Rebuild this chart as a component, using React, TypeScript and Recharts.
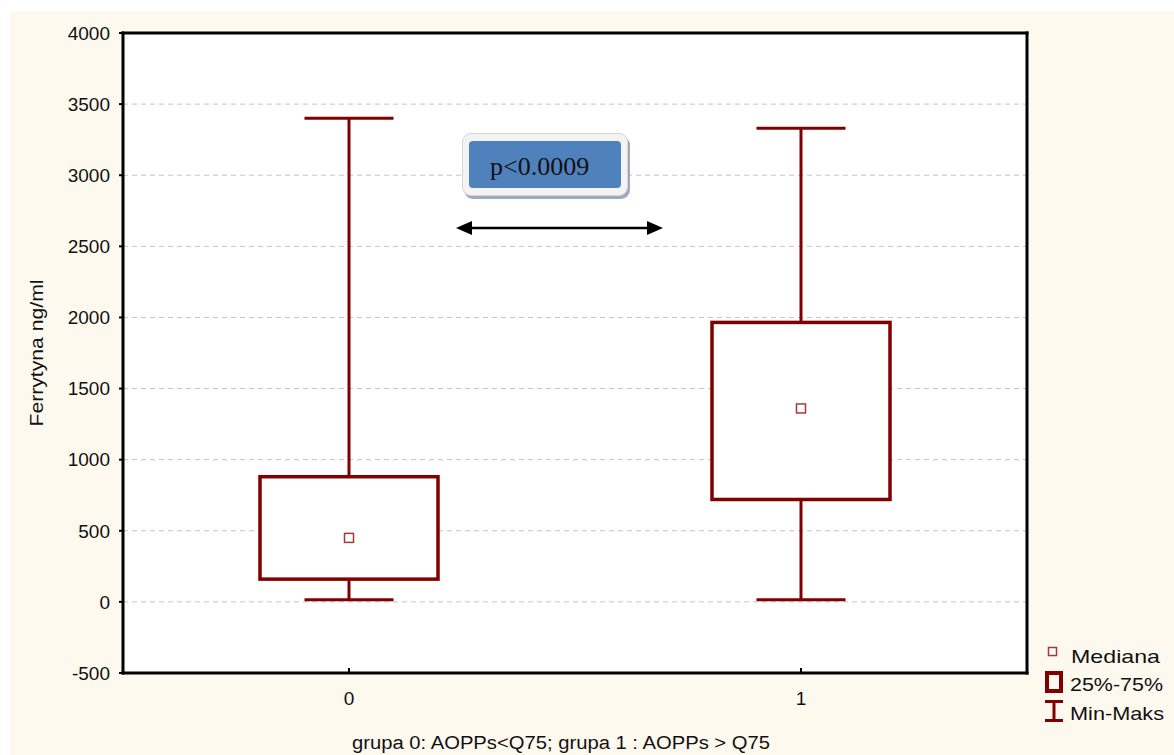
import React from 'react';
import {
  ComposedChart,
  Bar,
  Scatter,
  XAxis,
  YAxis,
  CartesianGrid,
} from 'recharts';

const groups = ['0', '1'];
const minVals = [15, 15];
const q1Vals = [160, 720];
const medianVals = [450, 1360];
const q3Vals = [880, 1965];
const maxVals = [3400, 3330];
const yTicks = [-500, 0, 500, 1000, 1500, 2000, 2500, 3000, 3500, 4000];

const xTitle = 'grupa 0: AOPPs<Q75; grupa 1 : AOPPs > Q75';
const yTitle = 'Ferrytyna ng/ml';
const pText = 'p<0.0009';
const legendItems = ['Mediana', '25%-75%', 'Min-Maks'];

const data = groups.map((g, i) => ({
  group: g,
  range: [minVals[i], maxVals[i]],
  min: minVals[i],
  q1: q1Vals[i],
  median: medianVals[i],
  q3: q3Vals[i],
  max: maxVals[i],
}));

const MAROON = '#800000';
const FONT = '"Liberation Sans", Arial, sans-serif';

const BoxShape = (props: any) => {
  const { x, y, width, height, payload } = props;
  if (x == null || y == null) return null;
  const top = Math.min(y, y + height);
  const bot = Math.max(y, y + height);
  const lo = payload.min;
  const hi = payload.max;
  const px = (v: number) => bot - ((v - lo) / (hi - lo)) * (bot - top);
  const cx = x + width / 2;
  const capHalf = width / 4;
  return (
    <g>
      <line x1={cx} x2={cx} y1={px(hi)} y2={px(payload.q3)} stroke={MAROON} strokeWidth={3} />
      <line x1={cx} x2={cx} y1={px(payload.q1)} y2={px(lo)} stroke={MAROON} strokeWidth={3} />
      <line x1={cx - capHalf} x2={cx + capHalf} y1={px(hi)} y2={px(hi)} stroke={MAROON} strokeWidth={3} />
      <line x1={cx - capHalf} x2={cx + capHalf} y1={px(lo)} y2={px(lo)} stroke={MAROON} strokeWidth={3} />
      <rect
        x={x}
        y={px(payload.q3)}
        width={width}
        height={px(payload.q1) - px(payload.q3)}
        fill="#fff"
        stroke={MAROON}
        strokeWidth={3.5}
      />
    </g>
  );
};

const MedianShape = (props: any) => {
  const { cx, cy } = props;
  if (cx == null || cy == null) return null;
  return <rect x={cx - 4.5} y={cy - 4.5} width={9} height={9} fill="#fff" stroke="#a23b3b" strokeWidth={1.5} />;
};

const BottomTick = (props: any) => {
  const { x, y, payload } = props;
  return (
    <g>
      <line x1={x} x2={x} y1={y - 5} y2={y} stroke="#000" strokeWidth={2} />
      <text x={x} y={y + 32} textAnchor="middle" fontSize={19} fontFamily={FONT} fill="#111">
        {payload.value}
      </text>
    </g>
  );
};

const RightTick = (props: any) => {
  const { x, y } = props;
  return <line x1={x - 5} x2={x} y1={y} y2={y} stroke="#000" strokeWidth={2} />;
};

const XTitle = (props: any) => {
  const vb = props.viewBox || { x: 113, y: 662, width: 904, height: 82 };
  return (
    <text
      x={vb.x + vb.width / 2 - 14}
      y={vb.y + 76}
      textAnchor="middle"
      fontSize={18}
      fontFamily={FONT}
      fill="#111"
      textLength={418}
      lengthAdjust="spacingAndGlyphs"
    >
      {xTitle}
    </text>
  );
};

const YTitle = (props: any) => {
  const vb = props.viewBox || { x: 0, y: 22, width: 113, height: 640 };
  const tx = vb.x + 33;
  const ty = vb.y + vb.height / 2;
  return (
    <text
      x={tx}
      y={ty}
      transform={`rotate(-90, ${tx}, ${ty})`}
      textAnchor="middle"
      fontSize={18}
      fontFamily={FONT}
      fill="#111"
      textLength={147}
      lengthAdjust="spacingAndGlyphs"
    >
      {yTitle}
    </text>
  );
};

export default function App() {
  return (
    <div
      style={{
        position: 'absolute',
        left: 10,
        top: 11,
        width: 1164,
        height: 744,
        background: '#fef9ef',
        overflow: 'hidden',
      }}
    >
      <ComposedChart
        width={1164}
        height={744}
        data={data}
        margin={{ top: 21, right: 137, bottom: 0, left: 0 }}
      >
        <CartesianGrid vertical={false} stroke="#c4c4c4" strokeDasharray="5 4" fill="#fff" />
        <XAxis
          dataKey="group"
          type="category"
          height={82}
          tickSize={0}
          tickMargin={0}
          tickLine={false}
          tick={<BottomTick />}
          axisLine={{ stroke: '#000', strokeWidth: 3, strokeLinecap: 'square' }}
          label={<XTitle />}
        />
        <XAxis
          xAxisId="t"
          dataKey="group"
          type="category"
          orientation="top"
          height={1}
          tick={false}
          tickLine={false}
          axisLine={{ stroke: '#000', strokeWidth: 3, strokeLinecap: 'square' }}
        />
        <YAxis
          type="number"
          domain={[-500, 4000]}
          ticks={yTicks}
          width={113}
          tickSize={4}
          tickMargin={9}
          tickLine={{ stroke: '#000', strokeWidth: 2 }}
          tick={{ fontSize: 19, fontFamily: FONT, fill: '#111' }}
          axisLine={{ stroke: '#000', strokeWidth: 3, strokeLinecap: 'square' }}
          interval={0}
          label={<YTitle />}
        />
        <YAxis
          yAxisId="r"
          type="number"
          orientation="right"
          domain={[-500, 4000]}
          ticks={yTicks}
          width={10}
          tickSize={0}
          tickMargin={0}
          tickLine={false}
          tick={<RightTick />}
          axisLine={{ stroke: '#000', strokeWidth: 3, strokeLinecap: 'square' }}
          interval={0}
        />
        <Bar dataKey="range" barSize={178} shape={<BoxShape />} isAnimationActive={false} />
        <Scatter dataKey="median" shape={<MedianShape />} isAnimationActive={false} />
      </ComposedChart>

      {/* annotation box */}
      <div
        style={{
          position: 'absolute',
          left: 452,
          top: 122,
          width: 164,
          height: 61,
          borderRadius: 9,
          background: '#f3f3f3',
          border: '1px solid #d6d6d6',
          boxShadow: '2px 3px 0 #9ea9bb',
        }}
      />
      <div
        style={{
          position: 'absolute',
          left: 459,
          top: 130,
          width: 152,
          height: 47,
          borderRadius: 4,
          background: '#4f81bd',
        }}
      />
      <div
        style={{
          position: 'absolute',
          left: 480,
          top: 143,
          fontFamily: '"Liberation Serif", "Times New Roman", serif',
          fontSize: 26,
          lineHeight: '26px',
          color: '#111',
          whiteSpace: 'nowrap',
        }}
      >
        {pText}
      </div>

      <svg
        width={1164}
        height={744}
        style={{ position: 'absolute', left: 0, top: 0, pointerEvents: 'none' }}
      >
        {/* double arrow */}
        <line x1={458} x2={641} y1={217} y2={217} stroke="#000" strokeWidth={2.5} />
        <polygon points="446,217 462,210 462,224" fill="#000" />
        <polygon points="653,217 637,210 637,224" fill="#000" />

        {/* legend */}
        <rect x={1038.5} y={636.5} width={8} height={8} fill="#fff" stroke="#a23b3b" strokeWidth={1.5} />
        <text x={1061} y={652} fontSize={19} fontFamily={FONT} fill="#111" textLength={89} lengthAdjust="spacingAndGlyphs">
          {legendItems[0]}
        </text>
        <rect x={1037} y={662} width={14} height={18} fill="none" stroke={MAROON} strokeWidth={4} />
        <text x={1060} y={680} fontSize={19} fontFamily={FONT} fill="#111" textLength={93} lengthAdjust="spacingAndGlyphs">
          {legendItems[1]}
        </text>
        <line x1={1035} x2={1053} y1={690.5} y2={690.5} stroke={MAROON} strokeWidth={3} />
        <line x1={1035} x2={1053} y1={709.5} y2={709.5} stroke={MAROON} strokeWidth={3} />
        <line x1={1044} x2={1044} y1={690} y2={710} stroke={MAROON} strokeWidth={3} />
        <text x={1060} y={709} fontSize={19} fontFamily={FONT} fill="#111" textLength={94} lengthAdjust="spacingAndGlyphs">
          {legendItems[2]}
        </text>
      </svg>
    </div>
  );
}
